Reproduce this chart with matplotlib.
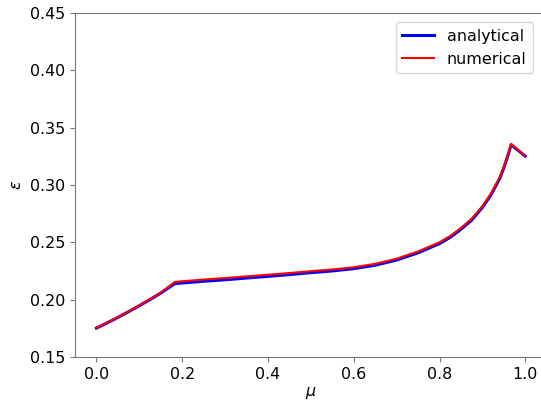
import numpy as np
import matplotlib.pyplot as plt

# friction coefficient mu and resulting strain epsilon
mu = [0.0, 0.025, 0.05, 0.075, 0.1, 0.125, 0.15, 0.183, 0.25, 0.3, 0.35, 0.4,
      0.45, 0.5, 0.55, 0.6, 0.65, 0.7, 0.75, 0.8, 0.825, 0.85, 0.875, 0.9,
      0.92, 0.94, 0.95, 0.96, 0.967, 1.0]

eps_numerical = [0.1755, 0.1800, 0.1848, 0.1898, 0.1950, 0.2005, 0.2062, 0.2155,
                 0.2175, 0.2188, 0.2203, 0.2217, 0.2232, 0.2248, 0.2263, 0.2282,
                 0.2312, 0.2357, 0.2420, 0.2500, 0.2555, 0.2625, 0.2705, 0.2815,
                 0.2925, 0.3065, 0.3160, 0.3272, 0.3357, 0.3252]

eps_analytical = [0.1752, 0.1797, 0.1845, 0.1895, 0.1947, 0.2001, 0.2057, 0.2140,
                  0.2160, 0.2173, 0.2188, 0.2203, 0.2218, 0.2235, 0.2250, 0.2270,
                  0.2300, 0.2345, 0.2408, 0.2488, 0.2543, 0.2613, 0.2693, 0.2803,
                  0.2913, 0.3053, 0.3148, 0.3262, 0.3350, 0.3250]

plt.rcParams['font.size'] = 11.4

fig = plt.figure(figsize=(5.41, 4.05), dpi=100)
ax = fig.add_axes([0.1386, 0.1185, 0.872, 0.85])

ax.plot(mu, eps_analytical, color='blue', linewidth=2.2, label='analytical')
ax.plot(mu, eps_numerical, color='red', linewidth=1.5, label='numerical')

ax.set_xlim(-0.05, 1.05)
ax.set_ylim(0.15, 0.45)
ax.set_xticks(np.arange(0, 1.01, 0.2))
ax.set_yticks(np.arange(0.15, 0.451, 0.05))
ax.set_xlabel(r'$\mu$', labelpad=2)
ax.set_ylabel(r'$\epsilon$', labelpad=4)

for side in ['left', 'bottom', 'top', 'right']:
    ax.spines[side].set_color('#777777')
ax.tick_params(color='#777777')

ax.legend(loc='upper right', fontsize=11.4, bbox_to_anchor=(0.987, 0.995))

fig.savefig('out.png', dpi=100)
